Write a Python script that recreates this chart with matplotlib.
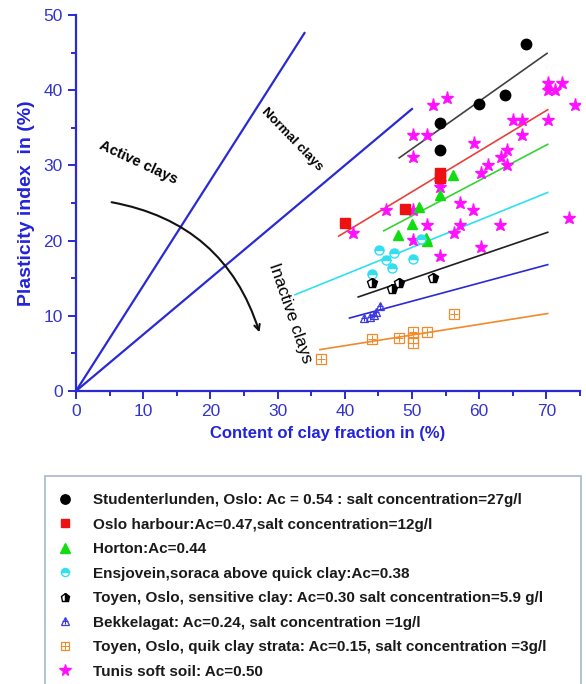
import numpy as np
import matplotlib
matplotlib.use('Agg')
import matplotlib.pyplot as plt
from matplotlib.patches import Rectangle

plt.rcParams['font.family'] = ['Liberation Sans', 'DejaVu Sans']

# ---- data ----
stud_x = [66.9, 60.0, 63.9, 54.1, 54.1]
stud_y = [46.1, 38.1, 39.4, 35.7, 32.0]

oslo_x = [40.1, 49.0, 54.1, 54.1]
oslo_y = [22.3, 24.2, 29.0, 28.3]

hort_x = [56.1, 54.1, 51.0, 50.0, 47.9, 52.1, 52.2]
hort_y = [28.7, 26.0, 24.4, 22.2, 20.7, 20.4, 20.0]

ensj_x = [45.1, 47.3, 46.2, 50.2, 47.1, 44.1, 51.3]
ensj_y = [18.8, 18.4, 17.4, 17.5, 16.3, 15.6, 20.2]

toys_x = [44.1, 48.0, 47.1, 53.1]
toys_y = [14.3, 14.3, 13.5, 15.0]

bekk_x = [42.9, 43.7, 44.3, 44.7, 45.3]
bekk_y = [9.7, 9.9, 10.1, 10.5, 11.3]

toyq_x = [36.4, 44.0, 48.0, 50.2, 50.2, 50.2, 52.2, 56.2]
toyq_y = [4.2, 6.9, 7.1, 7.8, 7.0, 6.4, 7.9, 10.2]

tunis_x = [53.2, 55.2, 50.1, 52.2, 50.2, 59.2, 65.1, 66.3, 66.3, 64.2, 63.2, 70.3,
           70.3, 72.3, 70.3, 71.3, 74.2, 61.3, 64.2, 60.2, 54.1, 54.1, 46.2, 50.2,
           57.2, 59.1, 41.2, 52.2, 57.2, 56.2, 50.2, 63.1, 73.3, 54.1, 60.2]
tunis_y = [38.0, 39.0, 34.0, 34.0, 31.1, 33.0, 36.0, 36.0, 34.0, 32.0, 31.1, 36.0,
           41.0, 41.0, 40.0, 40.0, 38.0, 30.1, 30.1, 29.0, 27.8, 27.1, 24.1, 24.0,
           25.0, 24.1, 21.0, 22.1, 22.1, 21.0, 20.1, 22.1, 23.0, 18.0, 19.1]

# trend lines (start/end), same order as series
fit_x0 = [48.1, 39.1, 45.8, 32.6, 42.0, 40.7, 36.3]
fit_y0 = [31.0, 20.6, 21.3, 12.8, 12.5, 9.7, 5.5]
fit_x1 = [70.1, 70.2, 70.2, 70.2, 70.2, 70.2, 70.2]
fit_y1 = [44.9, 37.4, 32.8, 26.4, 21.1, 16.8, 10.3]
fit_colors = ['#404040', '#e8413a', '#35d335', '#2fe0f0', '#202020', '#2a2ad4', '#f08a2a']

# activity boundary lines through the origin
bound_slope = [1.4, 0.75]
bound_xmax = [34.0, 50.0]

labels = ['Studenterlunden, Oslo: Ac = 0.54 : salt concentration=27g/l',
          'Oslo harbour:Ac=0.47,salt concentration=12g/l',
          'Horton:Ac=0.44',
          'Ensjovein,soraca above quick clay:Ac=0.38',
          'Toyen, Oslo, sensitive clay: Ac=0.30 salt concentration=5.9 g/l',
          'Bekkelagat: Ac=0.24, salt concentration =1g/l',
          'Toyen, Oslo, quik clay strata: Ac=0.15, salt concentration =3g/l',
          'Tunis soft soil: Ac=0.50']

blue = '#2a2ad4'

fig = plt.figure(figsize=(5.86, 6.84), dpi=100)
ax = fig.add_axes([0.1297, 0.4284, 0.860, 0.5497])

for s, xm in zip(bound_slope, bound_xmax):
    xs = np.array([0, xm])
    ax.plot(xs, s * xs, color=blue, lw=1.6, zorder=2)

for i in range(len(fit_x0)):
    ax.plot([fit_x0[i], fit_x1[i]], [fit_y0[i], fit_y1[i]], color=fit_colors[i], lw=1.2, zorder=2)

h1, = ax.plot(stud_x, stud_y, 'o', color='black', ms=7.5, ls='none', zorder=4)
h2, = ax.plot(oslo_x, oslo_y, 's', color='#ee1111', ms=6.5, ls='none', zorder=4)
h3, = ax.plot(hort_x, hort_y, '^', color='#11dd11', ms=7.5, ls='none', zorder=4)
h4, = ax.plot(ensj_x, ensj_y, 'o', ms=6.5, ls='none', fillstyle='top', color='#33dfef',
              markerfacecoloralt='white', markeredgecolor='#33dfef', zorder=4)
h5, = ax.plot(toys_x, toys_y, 'p', ms=7, ls='none', fillstyle='right', color='black',
              markerfacecoloralt='white', markeredgecolor='black', mew=1.0, zorder=4)
h6a, = ax.plot(bekk_x, bekk_y, '^', ms=6, ls='none', mfc='none', mec='#3a3ae0', mew=0.9, zorder=4)
h6b, = ax.plot(bekk_x, bekk_y, '+', ms=5, ls='none', color='#3a3ae0', mew=0.8, zorder=4)
h7a, = ax.plot(toyq_x, toyq_y, 's', ms=6.5, ls='none', mfc='none', mec='#f08a2a', mew=0.9, zorder=4)
h7b, = ax.plot(toyq_x, toyq_y, '+', ms=6, ls='none', color='#f08a2a', mew=0.7, zorder=4)
h8, = ax.plot(tunis_x, tunis_y, '*', color='#ff10ff', ms=9.5, ls='none', zorder=3)

ax.text(9.2, 30.4, 'Active clays', rotation=-25, ha='center', va='center',
        fontsize=10.5, fontweight='bold', color='black')
ax.text(32.2, 33.4, 'Normal clays', rotation=-46, ha='center', va='center',
        fontsize=9.5, fontweight='bold', color='black')
ax.text(31.9, 10.4, 'Inactive clays', rotation=-71, ha='center', va='center',
        fontsize=12.5, color='black')
ax.annotate('', xy=(27.3, 7.8), xytext=(5.3, 25.1),
            arrowprops=dict(arrowstyle='->', color='#111111', lw=1.5,
                            connectionstyle='arc3,rad=-0.3', shrinkA=0, shrinkB=0))

ax.set_xlim(0, 75)
ax.set_ylim(0, 50)
ax.set_xticks(np.arange(0, 71, 10))
ax.set_xticks(np.arange(0, 76, 5), minor=True)
ax.set_yticks(np.arange(0, 51, 10))
ax.set_yticks(np.arange(0, 51, 5), minor=True)
for sp in ['top', 'right']:
    ax.spines[sp].set_visible(False)
for sp in ['left', 'bottom']:
    ax.spines[sp].set_color(blue)
    ax.spines[sp].set_linewidth(1.6)
ax.tick_params(which='both', direction='out', color=blue, width=1.4, labelcolor='#3434c8', labelsize=12.5)
ax.tick_params(which='major', length=6)
ax.tick_params(which='minor', length=3.5)
ax.set_xlabel('Content of clay fraction in (%)', color='#2323d9', fontsize=12,
              fontweight='bold', labelpad=5)
ax.set_ylabel('Plasticity index  in (%)', color='#2323d9', fontsize=14,
              fontweight='bold', labelpad=6)

# legend box
fig.patches.append(Rectangle((45 / 586, -0.05), 536 / 586, 0.05 + 208 / 684,
                             transform=fig.transFigure, fill=False,
                             edgecolor='#a8b8cc', lw=1.2))
handles = [h1, h2, h3, h4, h5, (h6a, h6b), (h7a, h7b), h8]
leg = fig.legend(handles, labels, loc='upper left', bbox_to_anchor=(55.5 / 586, 1 - 493 / 684),
                 frameon=False, fontsize=11, handlelength=1.25, handletextpad=1.2,
                 labelspacing=0.69, borderaxespad=0, borderpad=0, markerscale=0.9)
for t in leg.get_texts():
    t.set_fontweight('bold')
    t.set_color('#1a1a1a')

fig.savefig('out.png', dpi=100)
